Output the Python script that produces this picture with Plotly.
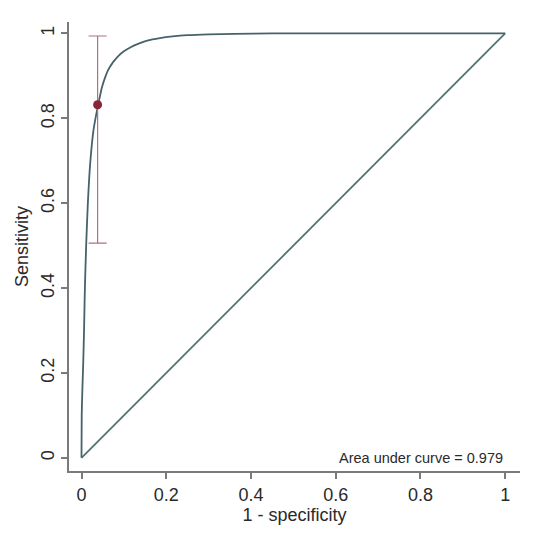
import plotly.graph_objects as go

# ROC curve (1 - specificity, sensitivity)
roc_fpr = [0.0, 0.0005, 0.002, 0.004, 0.006, 0.008, 0.011, 0.015, 0.021, 0.028, 0.034, 0.040,
           0.048, 0.056, 0.063, 0.075, 0.088, 0.100, 0.115, 0.132, 0.155, 0.185, 0.215, 0.25,
           0.30, 0.36, 0.45, 0.60, 0.80, 1.0]
roc_tpr = [0.0, 0.10, 0.16, 0.22, 0.30, 0.40, 0.50, 0.60, 0.70, 0.77, 0.805, 0.835,
           0.872, 0.897, 0.914, 0.933, 0.948, 0.958, 0.967, 0.975, 0.983, 0.989, 0.993, 0.996,
           0.998, 0.999, 1.0, 1.0, 1.0, 1.0]

# Reference (chance) line
ref_x = [0.0, 1.0]
ref_y = [0.0, 1.0]

# Operating point with confidence interval
pt_x = [0.038]
pt_y = [0.832]
pt_lo = [0.506]
pt_hi = [0.994]

auc_text = "Area under curve = 0.979"

x_ticks = [0, 0.2, 0.4, 0.6, 0.8, 1]
x_labels = ["0", "0.2", "0.4", "0.6", "0.8", "1"]
y_ticks = [0, 0.2, 0.4, 0.6, 0.8, 1]
y_labels = ["0", "0.2", "0.4", "0.6", "0.8", "1"]

curve_color = "#46626b"
ref_color = "#4f7474"
pt_color = "#8a2537"
err_color = "#b07080"
axis_color = "#7a7a7a"
text_color = "#2a2a2a"
font_family = "Liberation Sans, Arial, sans-serif"

fig = go.Figure()

fig.add_trace(go.Scatter(x=ref_x, y=ref_y, mode="lines",
                         line=dict(color=ref_color, width=1.8), showlegend=False,
                         hoverinfo="skip"))
fig.add_trace(go.Scatter(x=roc_fpr, y=roc_tpr, mode="lines",
                         line=dict(color=curve_color, width=1.8, shape="spline", smoothing=0.6),
                         showlegend=False))
fig.add_trace(go.Scatter(
    x=pt_x, y=pt_y, mode="markers",
    marker=dict(color=pt_color, size=9),
    error_y=dict(type="data", symmetric=False,
                 array=[h - y for h, y in zip(pt_hi, pt_y)],
                 arrayminus=[y - l for l, y in zip(pt_lo, pt_y)],
                 color=err_color, thickness=1.2, width=9),
    showlegend=False))

fig.add_annotation(x=1.0, y=0.0, xref="x", yref="y", text=auc_text,
                   showarrow=False, xanchor="right", yanchor="middle",
                   font=dict(family=font_family, size=14.5, color=text_color))

fig.update_layout(
    width=542, height=530,
    margin=dict(l=61, r=30, t=14, b=67),
    paper_bgcolor="white", plot_bgcolor="white",
    font=dict(family=font_family, color=text_color),
    xaxis=dict(range=[-0.0295, 1.035], tickvals=x_ticks, ticktext=x_labels,
               automargin=False,
               showgrid=False, zeroline=False, showline=True, linecolor=axis_color,
               linewidth=2, ticks="outside", ticklen=6, tickcolor=axis_color, tickwidth=1.5,
               tickfont=dict(size=18, color=text_color),
               title=dict(text="1 - specificity", font=dict(size=18, color=text_color), standoff=4)),
    yaxis=dict(range=[-0.031, 1.027], tickvals=y_ticks, ticktext=y_labels,
               automargin=False,
               showgrid=False, zeroline=False, showline=True, linecolor=axis_color,
               linewidth=2, ticks="outside", ticklen=6, tickcolor=axis_color, tickwidth=1.5,
               tickangle=-90,
               tickfont=dict(size=18, color=text_color),
               title=dict(text="Sensitivity", font=dict(size=18, color=text_color), standoff=4)),
)

fig.write_html("out.html")
